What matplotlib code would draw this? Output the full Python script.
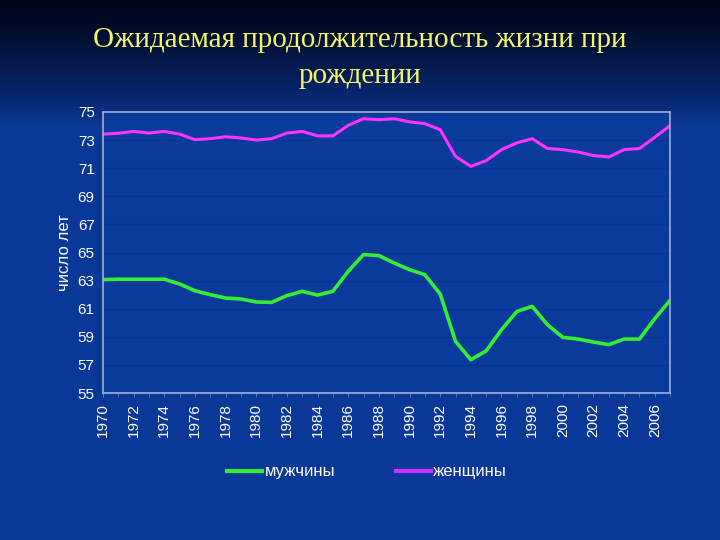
import numpy as np
import matplotlib.pyplot as plt
from matplotlib.lines import Line2D

# ==== DATA ====
years = list(range(1970, 2008))
men = [63.07, 63.1, 63.1, 63.1, 63.1, 62.76, 62.28, 62.0, 61.76, 61.69,
       61.48, 61.45, 61.93, 62.24, 61.97, 62.24, 63.66, 64.85, 64.78, 64.25,
       63.78, 63.42, 62.05, 58.68, 57.37, 58.0, 59.5, 60.8, 61.17, 59.86,
       58.96, 58.84, 58.63, 58.44, 58.84, 58.84, 60.29, 61.6]
women = [73.43, 73.48, 73.62, 73.5, 73.62, 73.43, 73.03, 73.1, 73.24, 73.15,
         73.0, 73.1, 73.5, 73.62, 73.3, 73.3, 74.05, 74.52, 74.45, 74.52,
         74.3, 74.17, 73.74, 71.84, 71.13, 71.54, 72.32, 72.8, 73.1, 72.4,
         72.32, 72.15, 71.9, 71.8, 72.32, 72.4, 73.2, 74.03]
tick_years = list(range(1970, 2007, 2))
y_ticks = list(range(55, 76, 2))
title = "Ожидаемая продолжительность жизни при\nрождении"
ylabel = "число лет"
series_names = ["мужчины", "женщины"]
# ==============

fig = plt.figure(figsize=(7.2, 5.4), dpi=100)

# slide background: dark navy at top fading into blue
bg = fig.add_axes([0, 0, 1, 1])
bg.set_axis_off()
h = 540
t = np.linspace(0, 1, h)
top = np.array([0.0, 0.02, 0.10])
mid = np.array([0.04, 0.22, 0.60])
w = np.clip(t / 0.24, 0, 1)[:, None] ** 1.3
grad = top * (1 - w) + mid * w
bg.imshow(np.repeat(grad[:, None, :], 2, axis=1), aspect='auto',
          extent=[0, 1, 0, 1], origin='upper')
bg.set_xlim(0, 1)
bg.set_ylim(0, 1)

fig.text(0.5, 0.893, title, ha='center', va='center', color='#f5f56a',
         fontsize=21, family='Liberation Serif', linespacing=1.5)

ax = fig.add_axes([0.143, 0.2722, 0.7877, 0.5204])
ax.set_facecolor('#0a3a9c')
ax.plot(years, men, color='#33ee33', lw=2.6, solid_joinstyle='round')
ax.plot(years, women, color='#ff33ff', lw=2.2, solid_joinstyle='round')

ax.set_xlim(1970, 2007)
ax.set_ylim(55, 75)
ax.set_yticks(y_ticks)
ax.set_xticks(tick_years)
ax.set_xticks(years, minor=True)
ax.set_xticklabels([str(y) for y in tick_years], rotation=90)
for lab in ax.get_xticklabels() + ax.get_yticklabels():
    lab.set_color('white')
    lab.set_family('Liberation Sans')
    lab.set_fontsize(11)
ax.tick_params(axis='y', length=0, pad=6)
ax.tick_params(axis='x', which='both', length=3, color='#5a78b8', pad=4)
ax.grid(axis='y', color='#0a348c', lw=0.8)
for s in ax.spines.values():
    s.set_color('#9fb0d4')
    s.set_linewidth(1.2)

ax.set_ylabel(ylabel, color='white', fontsize=12, family='Liberation Sans', labelpad=4)

handles = [Line2D([], [], color='#33ee33', lw=3),
           Line2D([], [], color='#cc33ff', lw=3)]
leg = fig.legend(handles, series_names, loc='center', bbox_to_anchor=(0.51, 0.126),
                 ncol=2, frameon=False, handlelength=2.1, handletextpad=0.15,
                 columnspacing=3.6, prop={'family': 'Liberation Sans', 'size': 12})
for txt in leg.get_texts():
    txt.set_color('white')

fig.savefig('out.png', dpi=100)
